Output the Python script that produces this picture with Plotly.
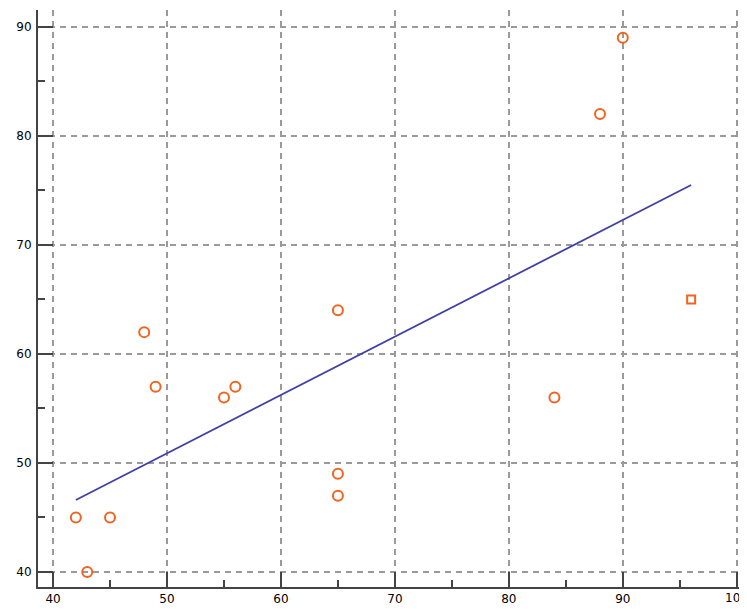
import plotly.graph_objects as go

# Data
pts_x = [42, 43, 45, 48, 49, 55, 56, 65, 65, 65, 84, 88, 90]
pts_y = [45, 40, 45, 62, 57, 56, 57, 64, 49, 47, 56, 82, 89]
sq_x = [96]
sq_y = [65]
line_x = [42, 96]
line_y = [46.6, 75.5]
tick_vals = [40, 50, 60, 70, 80, 90, 100]
edge_label = 100

orange = "#f0641f"
blue = "#4040a8"

fig = go.Figure()
fig.add_trace(go.Scatter(x=line_x, y=line_y, mode="lines",
                         line=dict(color=blue, width=1.8), showlegend=False))
fig.add_trace(go.Scatter(x=pts_x, y=pts_y, mode="markers",
                         marker=dict(symbol="circle-open", size=10, color=orange,
                                     line=dict(width=2, color=orange)),
                         showlegend=False))
fig.add_trace(go.Scatter(x=sq_x, y=sq_y, mode="markers",
                         marker=dict(symbol="square-open", size=8, color=orange,
                                     line=dict(width=2, color=orange)),
                         showlegend=False))

axis_common = dict(
    automargin=False,
    showgrid=True, gridcolor="#9a9a9a", griddash="6px,5px", gridwidth=1.5,
    zeroline=False, showline=True, linecolor="#444444", linewidth=2,
    ticks="inside", ticklen=15, tickwidth=2, tickcolor="#444444",
    tickvals=tick_vals,
    minor=dict(dtick=5, tick0=0, ticks="inside", ticklen=7, tickwidth=2,
               tickcolor="#444444", showgrid=False),
    tickfont=dict(family="DejaVu Sans", size=12, color="black"),
)

# The page body has an 8px margin, so the figure is sized/offset to compensate.
fig.update_layout(
    width=739, height=601,
    margin=dict(l=30, r=0, t=2, b=22),
    paper_bgcolor="white", plot_bgcolor="white",
    xaxis=dict(range=[38.68, 100.9], ticklabelstandoff=0, **axis_common),
    yaxis=dict(range=[38.62, 91.55], ticklabelstandoff=2, **axis_common),
)
# Edge tick label that the reference shows clipped at the right border
fig.add_annotation(x=edge_label, xref="x", y=0, yref="paper", yanchor="top",
                   yshift=-2, text=str(edge_label), showarrow=False,
                   font=dict(family="DejaVu Sans", size=12, color="black"))
fig.write_html("out.html")
